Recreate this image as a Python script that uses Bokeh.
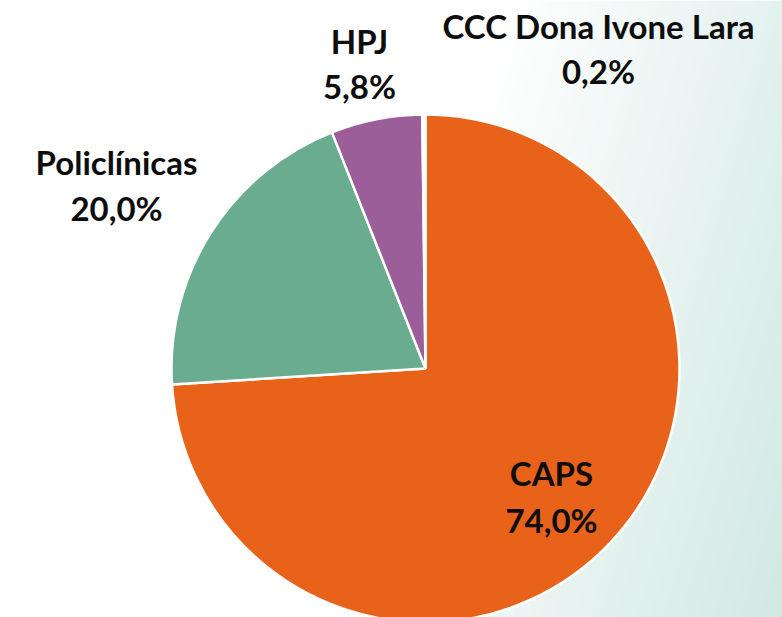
import numpy as np
from bokeh.plotting import figure
from bokeh.models import Range1d
from bokeh.embed import file_html
from bokeh.resources import INLINE
from bokeh.core.properties import value

# ---------------- data ----------------
categories = ["CAPS", "Policlínicas", "HPJ", "CCC Dona Ivone Lara"]
values = [74.0, 20.0, 5.8, 0.2]
colors = ["#E8621A", "#6AAC8F", "#9C5E99", "#FFFFFF"]
pct_labels = [f"{v:.1f}".replace(".", ",") + "%" for v in values]

# ---------------- layout (reference pixel coords) ----------------
W, H = 782, 617
M = 0
CX, CY, R = 425, 368, 254
label_x = [551, 116, 359, 598]
name_base = [472, 161, 40, 25]
pct_base = [519, 207, 85, 70]

p = figure(width=W - 2 * M, height=H - 2 * M,
           x_range=Range1d(M, W - M), y_range=Range1d(M, H - M),
           output_backend="svg", toolbar_location=None, min_border=0)
p.axis.visible = False
p.grid.visible = False
p.outline_line_color = None
p.background_fill_color = "white"
p.border_fill_color = "white"

# background gradient (white -> pale teal towards bottom-right)
nx, ny = 391, 309
xs = np.linspace(M, W - M, nx)
ys_data = np.linspace(M, H - M, ny)
X, Yd = np.meshgrid(xs, ys_data)
Yref = H - Yd
t = 1 - (W - X) / 182 * 0.4 - (H - Yref) / 617 * 0.4
t = np.clip(t, 0, 1)
end = np.array([210, 233, 228])
img = np.empty((ny, nx), dtype=np.uint32)
view = img.view(dtype=np.uint8).reshape((ny, nx, 4))
for i in range(3):
    view[:, :, i] = (255 + (end[i] - 255) * t).astype(np.uint8)
view[:, :, 3] = 255
p.image_rgba(image=[img], x=M, y=M, dw=W - 2 * M, dh=H - 2 * M)

# pie
cum = np.concatenate([[0], np.cumsum(values)])
start = np.deg2rad(90 - cum[:-1] * 3.6)
endang = np.deg2rad(90 - cum[1:] * 3.6)
p.wedge(x=CX, y=H - CY, radius=R, start_angle=start, end_angle=endang,
        direction="clock", fill_color=colors, line_color="white", line_width=2.5)

# labels
common = dict(text_font=value("Lato"), text_font_style="bold", text_font_size="33px",
              text_align="center", text_baseline="alphabetic", text_color="#0D0D0D")
p.text(x=label_x, y=[H - v for v in name_base], text=categories, **common)
p.text(x=label_x, y=[H - v for v in pct_base], text=pct_labels, **common)

open("out.html", "w").write(file_html(p, INLINE))
